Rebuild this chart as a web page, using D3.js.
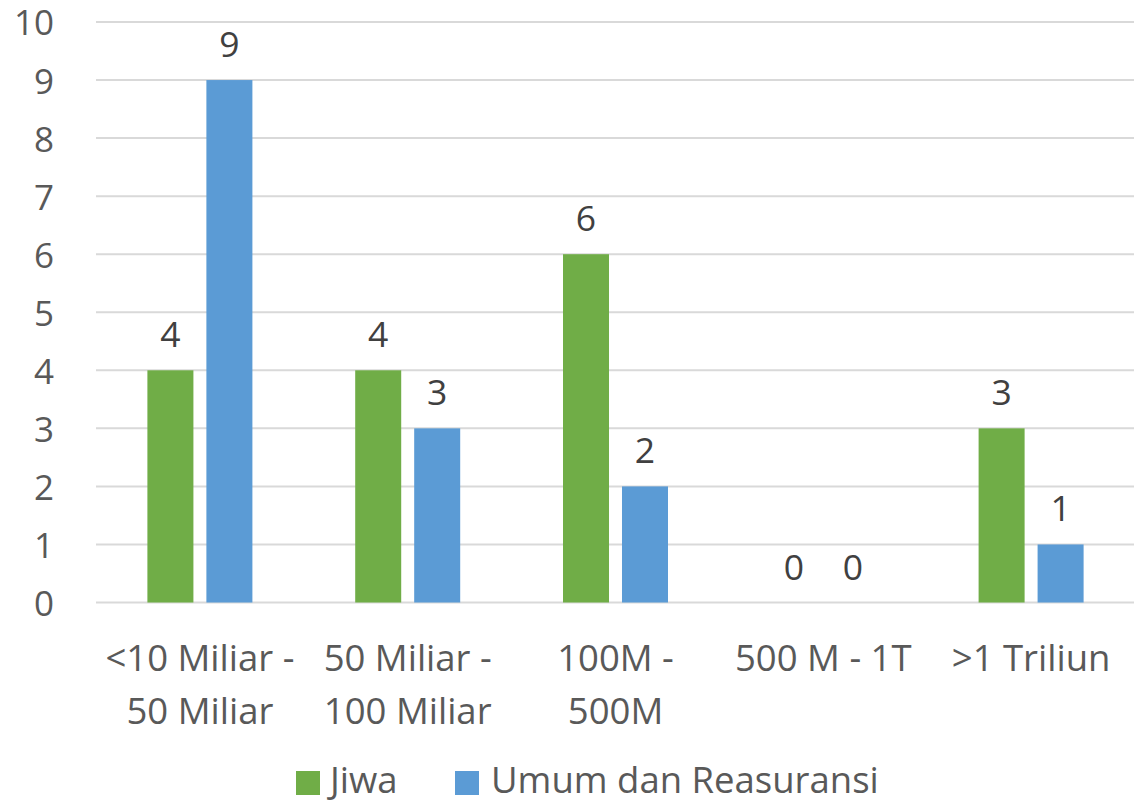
<!DOCTYPE html>
<html>
<head>
<meta charset="utf-8">
<script src="https://cdn.jsdelivr.net/npm/d3@7"></script>
<style>
  html, body { margin: 0; padding: 0; background: #fff; }
  svg { display: block; }
</style>
</head>
<body>
<svg id="chart" width="1134" height="802"></svg>
<script>
const categories = ["<10 Miliar -\n50 Miliar", "50 Miliar -\n100 Miliar", "100M -\n500M", "500 M - 1T", ">1 Triliun"];
const seriesNames = ["Jiwa", "Umum dan Reasuransi"];
const jiwa = [4, 4, 6, 0, 3];
const umum = [9, 3, 2, 0, 1];
const yTicks = [0, 1, 2, 3, 4, 5, 6, 7, 8, 9, 10];
const colors = ["#70AD47", "#5B9BD5"];

(function () {
const seriesValues = [jiwa, umum];
const FONT = "'Open Sans', 'Noto Sans', sans-serif";
const TXT = "#595959";
const FS = 36.5;

const svg = d3.select("#chart");
const mLeft = 96, mRight = 1135, mTop = 22, mBottom = 602.5;

const y = d3.scaleLinear().domain([0, 10]).range([mBottom, mTop]);
const x0 = d3.scaleBand().domain(categories).range([mLeft, mRight]).padding(0);
const bw = x0.bandwidth();
const x1 = d3.scaleBand().domain(seriesNames)
  .range([bw / 2 - 52.5, bw / 2 + 52.5]).paddingInner(0.22).paddingOuter(0);

// gridlines
svg.append("g").selectAll("line").data(yTicks).join("line")
  .attr("x1", mLeft).attr("x2", mRight)
  .attr("y1", d => y(d)).attr("y2", d => y(d))
  .attr("stroke", "#D9D9D9").attr("stroke-width", 2);

// y axis labels
const yAxis = d3.axisLeft(y).tickValues(yTicks).tickSize(0).tickPadding(0);
const gy = svg.append("g").attr("transform", "translate(54,0)").call(yAxis);
gy.select(".domain").remove();
gy.selectAll("text").attr("font-family", FONT).attr("font-size", 35).attr("fill", TXT).attr("dy", "0.37em");

// bars
const groups = svg.append("g").selectAll("g").data(categories).join("g")
  .attr("transform", d => `translate(${x0(d)},0)`);

groups.each(function(cat, ci) {
  const g = d3.select(this);
  seriesNames.forEach((s, si) => {
    const v = seriesValues[si][ci];
    g.append("rect")
      .attr("x", x1(s)).attr("width", x1.bandwidth())
      .attr("y", y(v)).attr("height", y(0) - y(v))
      .attr("fill", colors[si]);
    g.append("text")
      .attr("x", x1(s) + x1.bandwidth() / 2)
      .attr("y", y(v) - 23)
      .attr("text-anchor", "middle")
      .attr("font-family", FONT).attr("font-size", 35.5).attr("fill", "#404040")
      .text(v);
  });
});

// x labels
const xl = svg.append("g").selectAll("text").data(categories).join("text")
  .attr("x", d => x0(d) + bw / 2)
  .attr("y", 671)
  .attr("text-anchor", "middle")
  .attr("font-family", FONT).attr("font-size", FS).attr("fill", TXT);
xl.each(function(d) {
  const lines = d.split("\n");
  d3.select(this).selectAll("tspan").data(lines).join("tspan")
    .attr("x", x0(d) + bw / 2)
    .attr("dy", (l, i) => i === 0 ? 0 : 52.5)
    .text(l => l);
});

// legend
const legendX = [296, 455];
const legendTextOffset = [34, 36];
const leg = svg.append("g").selectAll("g").data(seriesNames).join("g")
  .attr("transform", (d, i) => `translate(${legendX[i]},0)`);
leg.append("rect").attr("x", 0).attr("y", 771).attr("width", 24).attr("height", 24)
  .attr("fill", (d, i) => colors[i]);
leg.append("text").attr("x", (d, i) => legendTextOffset[i]).attr("y", 793)
  .attr("font-family", FONT).attr("font-size", FS).attr("fill", TXT)
  .text(d => d);
})();
</script>
</body>
</html>
